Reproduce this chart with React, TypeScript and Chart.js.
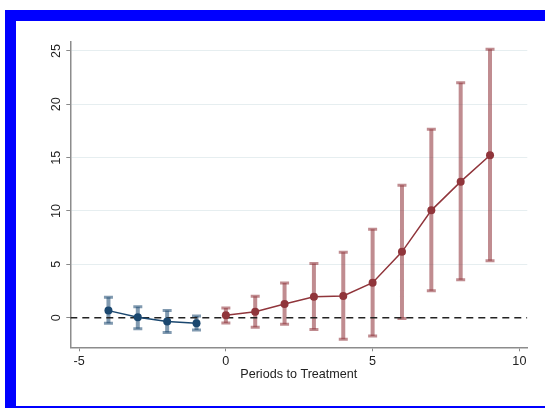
import React, { useEffect, useRef } from "react";
import { Chart, registerables } from "chart.js";

Chart.register(...registerables);

// ---- data ----
const preX = [-4, -3, -2, -1];
const preCoef = [0.66, 0.03, -0.37, -0.53];
const preLow = [-0.53, -1.03, -1.4, -1.15];
const preHigh = [1.91, 1.03, 0.66, 0.16];

const postX = [0, 1, 2, 3, 4, 5, 6, 7, 8, 9];
const postCoef = [0.22, 0.56, 1.28, 1.95, 2.03, 3.28, 6.17, 10.06, 12.75, 15.22];
const postLow = [-0.5, -0.9, -0.62, -1.12, -2.03, -1.72, -0.09, 2.53, 3.56, 5.34];
const postHigh = [0.9, 2.0, 3.24, 5.08, 6.14, 8.28, 12.42, 17.66, 22.03, 25.16];

const xTicks = [-5, 0, 5, 10];
const yTicks = [0, 5, 10, 15, 20, 25];
const xTitle = "Periods to Treatment";
const xMin = -5.3;
const xMax = 10.27;
const yMin = -2.78;
const yMax = 25.87;

// ---- styles ----
const BLUE = "#1a476f";
const RED = "#90353b";
const BLUE_CI = "rgba(26,71,111,0.55)";
const RED_CI = "rgba(144,53,59,0.57)";
const FONT = '"Liberation Sans", Arial, Helvetica, sans-serif';
const FONT_SIZE = 12.6;

function points(xs: number[], ys: number[]) {
  return xs.map((x, i) => ({ x, y: ys[i] }));
}
function segments(xs: number[], lo: number[], hi: number[]) {
  const out: any[] = [];
  xs.forEach((x, i) => {
    out.push({ x, y: lo[i] }, { x, y: hi[i] }, { x, y: null });
  });
  return out;
}
function caps(xs: number[], lo: number[], hi: number[]) {
  const out: any[] = [];
  xs.forEach((x, i) => {
    out.push({ x, y: lo[i] }, { x, y: hi[i] });
  });
  return out;
}

const yLabelPlugin = {
  id: "yRotLabels",
  afterDraw(chart: any) {
    const s = chart.scales.y;
    const ctx = chart.ctx;
    ctx.save();
    ctx.font = `${FONT_SIZE}px ${FONT}`;
    ctx.fillStyle = "#222";
    ctx.textAlign = "center";
    ctx.textBaseline = "middle";
    s.ticks.forEach((t: any) => {
      const y = s.getPixelForValue(t.value);
      ctx.save();
      ctx.translate(chart.chartArea.left - 14, y);
      ctx.rotate(-Math.PI / 2);
      ctx.fillText(String(t.value), 0, 0);
      ctx.restore();
    });
    ctx.restore();
  },
};

export default function App() {
  const ref = useRef<HTMLCanvasElement>(null);

  useEffect(() => {
    if (!ref.current) return;
    const chart = new Chart(ref.current, {
      type: "line",
      data: {
        datasets: [
          {
            data: points(preX, preCoef),
            borderColor: BLUE,
            backgroundColor: BLUE,
            borderWidth: 1.5,
            pointRadius: 4,
            pointBorderWidth: 0,
            pointBackgroundColor: BLUE,
            order: 1,
          },
          {
            data: points(postX, postCoef),
            borderColor: RED,
            backgroundColor: RED,
            borderWidth: 1.5,
            pointRadius: 4,
            pointBorderWidth: 0,
            pointBackgroundColor: RED,
            order: 1,
          },
          {
            data: [
              { x: xMin, y: 0 },
              { x: xMax, y: 0 },
            ],
            borderColor: "#222",
            borderWidth: 1.5,
            borderDash: [7, 5],
            pointRadius: 0,
            order: 2,
          },
          {
            data: caps(preX, preLow, preHigh),
            showLine: false,
            pointStyle: "line",
            pointRadius: 4.5,
            pointBorderWidth: 3,
            pointBorderColor: BLUE_CI,
            order: 3,
          },
          {
            data: caps(postX, postLow, postHigh),
            showLine: false,
            pointStyle: "line",
            pointRadius: 4.5,
            pointBorderWidth: 3,
            pointBorderColor: RED_CI,
            order: 3,
          },
          {
            data: segments(preX, preLow, preHigh),
            borderColor: BLUE_CI,
            borderWidth: 4,
            pointRadius: 0,
            spanGaps: false,
            order: 4,
          },
          {
            data: segments(postX, postLow, postHigh),
            borderColor: RED_CI,
            borderWidth: 4,
            pointRadius: 0,
            spanGaps: false,
            order: 4,
          },
        ] as any,
      },
      options: {
        animation: false,
        responsive: false,
        events: [],
        layout: { padding: { top: 41.7, right: 17.7, left: 0, bottom: 0 } },
        plugins: { legend: { display: false }, tooltip: { enabled: false } },
        scales: {
          x: {
            type: "linear",
            min: xMin,
            max: xMax,
            afterBuildTicks: (s: any) => {
              s.ticks = xTicks.map((v) => ({ value: v }));
            },
            afterFit: (s: any) => {
              s.height = 60.7;
            },
            grid: {
              drawOnChartArea: false,
              drawTicks: true,
              tickLength: 4,
              tickColor: "#888",
              tickWidth: 1,
            },
            border: { display: true, color: "#8c8c8c", width: 1.5 },
            ticks: {
              color: "#222",
              font: { family: FONT, size: FONT_SIZE },
              padding: 3,
              maxRotation: 0,
              minRotation: 0,
              callback: (v: any) => String(v),
            },
            title: {
              display: true,
              text: xTitle,
              color: "#222",
              font: { family: FONT, size: FONT_SIZE },
              padding: { top: 0, bottom: 25.8 },
            },
          },
          y: {
            type: "linear",
            min: yMin,
            max: yMax,
            afterBuildTicks: (s: any) => {
              s.ticks = yTicks.map((v) => ({ value: v }));
            },
            afterFit: (s: any) => {
              s.width = 70.3;
            },
            grid: {
              color: (c: any) => (c.tick && c.tick.value === 0 ? "rgba(0,0,0,0)" : "#e6eef0"),
              lineWidth: 1,
              drawTicks: true,
              tickLength: 4,
              tickColor: "#888",
              tickWidth: 1,
            },
            border: { display: true, color: "#8c8c8c", width: 1.5 },
            ticks: { display: false },
          },
        },
      },
      plugins: [yLabelPlugin],
    } as any);
    return () => chart.destroy();
  }, []);

  return (
    <div
      style={{
        position: "fixed",
        left: 0,
        top: 0,
        width: 545,
        height: 408,
        overflow: "hidden",
        background: "#fff",
      }}
    >
      <div
        style={{
          position: "absolute",
          left: 5,
          top: 10,
          width: 600,
          height: 406,
          boxSizing: "border-box",
          borderStyle: "solid",
          borderColor: "#0000ff",
          borderWidth: "11px 10px 10px 11px",
        }}
      />
      <canvas
        ref={ref}
        width={545}
        height={408}
        style={{ position: "absolute", left: 0, top: 0, width: 545, height: 408 }}
      />
    </div>
  );
}
